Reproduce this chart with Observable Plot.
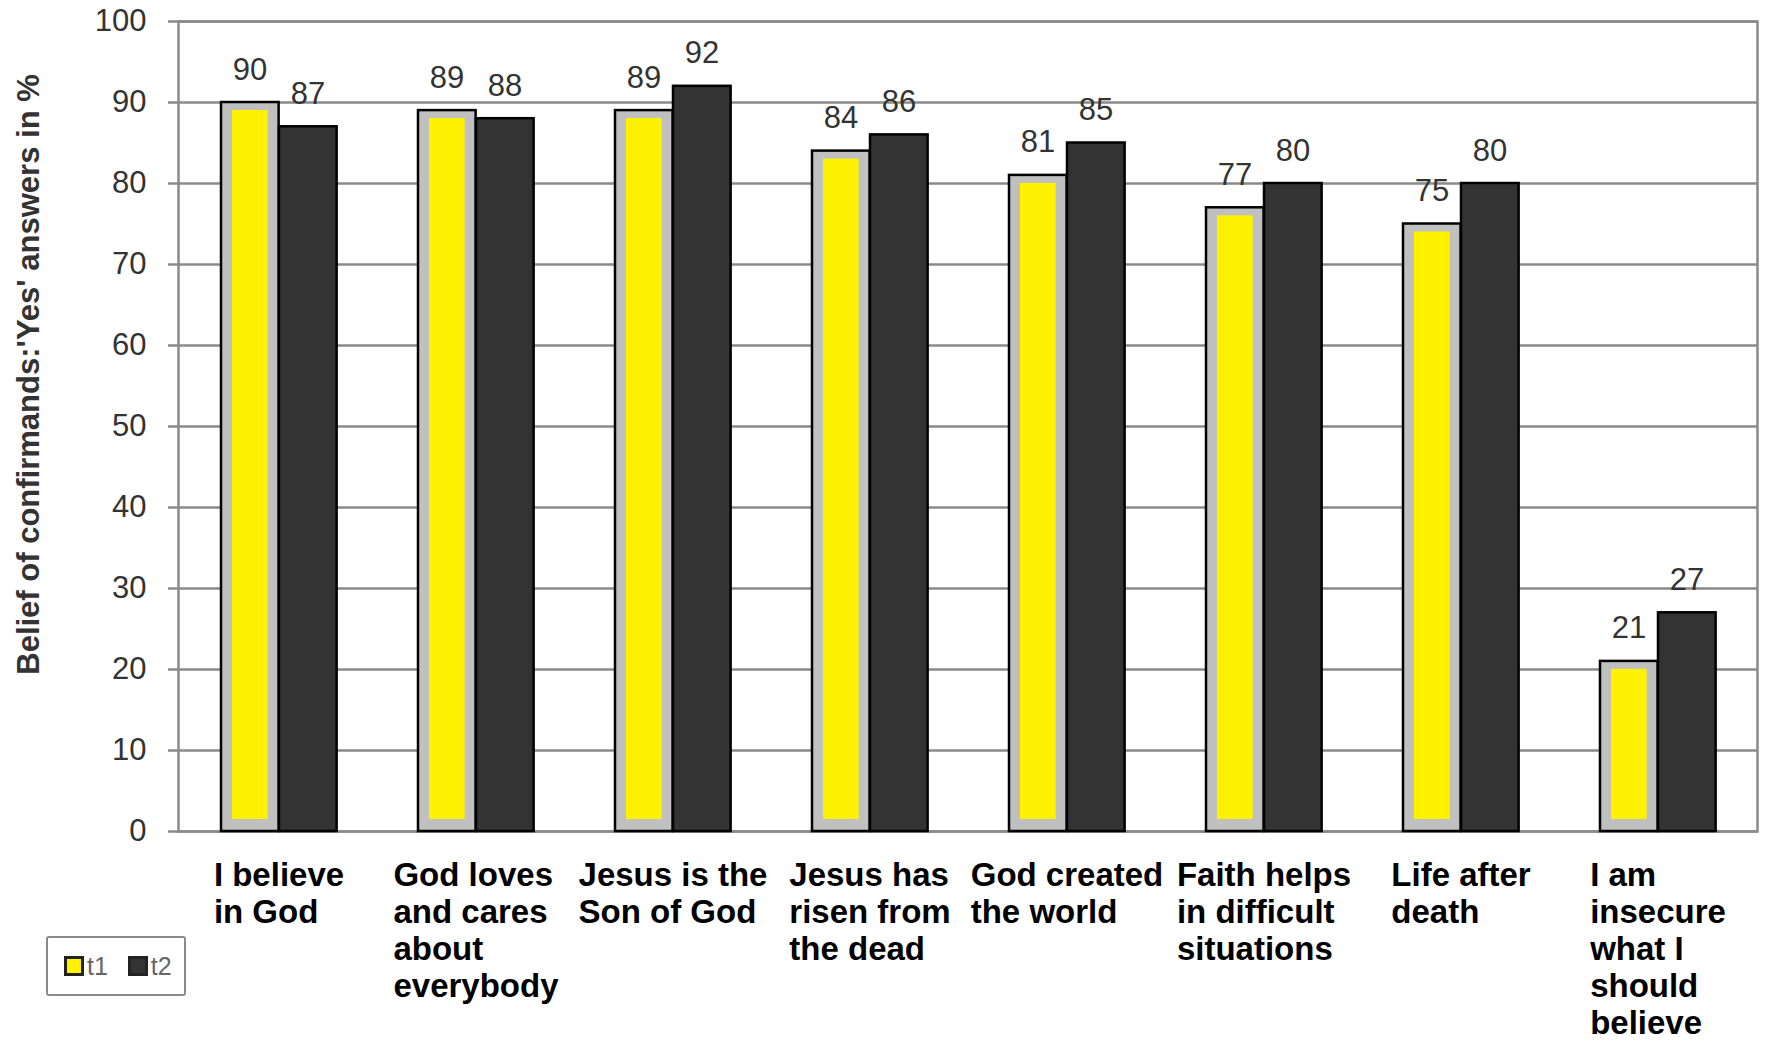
<!DOCTYPE html>
<html>
<head>
<meta charset="utf-8">
<script src="https://cdn.jsdelivr.net/npm/d3@7"></script>
<script src="https://cdn.jsdelivr.net/npm/@observablehq/plot@0.6"></script>
<style>
  html, body { margin: 0; padding: 0; background: #fff; }
  #wrap { position: relative; width: 1765px; height: 1043px; }
  #legend {
    position: absolute; left: 46px; top: 936px; width: 140px; height: 60px;
    border: 2px solid #8a8a8a; border-radius: 3px; box-sizing: border-box;
    font-family: "Liberation Sans", Arial, sans-serif; font-size: 25px; color: #666;
    display: flex; align-items: center; padding-left: 16px;
  }
  #legend .sw { display: inline-block; width: 14px; height: 14px; border: 3px solid #222; margin-right: 3px; }
  #legend .item { display: flex; align-items: center; margin-right: 20px; }
</style>
</head>
<body>
<div id="wrap">
  <div id="chart"></div>
  <div id="legend"></div>
</div>
<script>
const categories = [
  "I believe\nin God",
  "God loves\nand cares\nabout\neverybody",
  "Jesus is the\nSon of God",
  "Jesus has\nrisen from\nthe dead",
  "God created\nthe world",
  "Faith helps\nin difficult\nsituations",
  "Life after\ndeath",
  "I am\ninsecure\nwhat I\nshould\nbelieve"
];
const seriesNames = ["t1", "t2"];
const t1Values = [90, 89, 89, 84, 81, 77, 75, 21];
const t2Values = [87, 88, 92, 86, 85, 80, 80, 27];
const yTicks = [0, 10, 20, 30, 40, 50, 60, 70, 80, 90, 100];
const yLabel = "Belief of confirmands:'Yes' answers in %";

const t1Data = categories.map((c, i) => ({category: c, series: "t1", value: t1Values[i]}));
const t2Data = categories.map((c, i) => ({category: c, series: "t2", value: t2Values[i]}));

const font = "'Liberation Sans', Arial, sans-serif";
const band = (1765 - 178 - 8) / categories.length; // width of one category band

const fig = Plot.plot({
  width: 1765,
  height: 1043,
  marginLeft: 178,
  marginRight: 8,
  marginTop: 21,
  marginBottom: 212,
  style: {fontFamily: font, background: "white", overflow: "visible"},
  x: {domain: categories, padding: 0, label: null},
  y: {domain: [0, 100], label: null},
  marks: [
    Plot.ruleY(yTicks, {stroke: "#8a8a8a", strokeWidth: 2.5}),
    Plot.frame({stroke: "#8a8a8a", strokeWidth: 2.5}),
    Plot.axisY({ticks: yTicks, tickSize: 10, tickPadding: 22,
      fontSize: 31, fill: "#333", stroke: "#8a8a8a", strokeWidth: 2.5, label: null}),
    Plot.text([yLabel], {text: d => d, frameAnchor: "left", textAnchor: "middle", rotate: -90,
      dx: -149, dy: -52, fontSize: 31, fontWeight: "bold", fill: "#333"}),
    Plot.axisX({anchor: "bottom", tickSize: 0, tickPadding: 28, fontSize: 33,
      fontWeight: "bold", fill: "#000", textAnchor: "start", lineHeight: 1.12, label: null}),
    // t1: grey-bordered bar with yellow core
    Plot.barY(t1Data, {x: "category", y: "value", fill: "#c0c0c0", stroke: "#000", strokeWidth: 2.5,
      insetLeft: 41, insetRight: band - 99}),
    Plot.barY(t1Data, {x: "category", y: "value", fill: "#fff200",
      insetLeft: 52, insetRight: band - 88, insetTop: 8, insetBottom: 12}),
    // t2: dark bar
    Plot.barY(t2Data, {x: "category", y: "value", fill: "#333333", stroke: "#000", strokeWidth: 2.5,
      insetLeft: 99, insetRight: band - 157}),
    Plot.text(t1Data, {x: "category", y: "value", text: d => String(d.value), dx: -29,
      lineAnchor: "bottom", dy: -23, fontSize: 31, fill: "#333"}),
    Plot.text(t2Data, {x: "category", y: "value", text: d => String(d.value), dx: 29,
      lineAnchor: "bottom", dy: -23, fontSize: 31, fill: "#333"})
  ]
});
document.getElementById("chart").append(fig);

// left-align lines within a block centred on each category
fig.querySelectorAll('g[aria-label="x-axis tick label"] text').forEach(t => {
  const spans = t.querySelectorAll("tspan");
  let w = 0;
  if (spans.length) {
    spans.forEach(s => { w = Math.max(w, s.getComputedTextLength()); });
    spans.forEach(s => s.setAttribute("x", -w / 2));
  } else {
    w = t.getComputedTextLength();
    t.setAttribute("x", -w / 2);
  }
});

// legend
const legend = document.getElementById("legend");
const swatchFill = {t1: "#fff200", t2: "#333333"};
seriesNames.forEach(s => {
  const item = document.createElement("span");
  item.className = "item";
  const sw = document.createElement("span");
  sw.className = "sw";
  sw.style.background = swatchFill[s];
  item.append(sw, document.createTextNode(s));
  legend.append(item);
});
</script>
</body>
</html>
